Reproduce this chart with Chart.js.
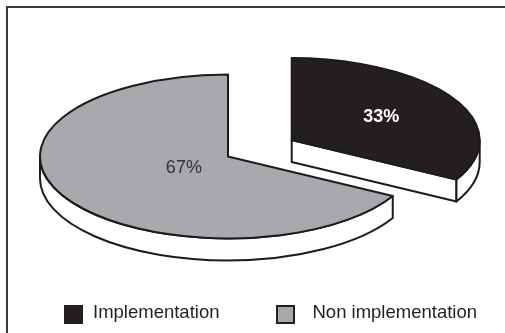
<!DOCTYPE html>
<html>
<head>
<meta charset="utf-8">
<title>Implementation share</title>
<script src="https://cdn.jsdelivr.net/npm/chart.js@4.4.0/dist/chart.umd.min.js"></script>
<style>
  html, body { margin: 0; padding: 0; background: #fff; }
  body {
    width: 505px;
    height: 333px;
    position: relative;
    overflow: hidden;
    font-family: "Liberation Sans", Arial, sans-serif;
  }
  #frame {
    position: absolute;
    left: 6px;
    top: 6px;
    width: 560px;
    height: 380px;
    border-left: 2px solid #383838;
    border-top: 2px solid #383838;
  }
  #chart-wrap {
    position: absolute;
    left: 0;
    top: 0;
    width: 505px;
    height: 333px;
  }
  #legend {
    position: absolute;
    left: 64px;
    top: 301px;
    display: flex;
    font-size: 18.5px;
    line-height: 21px;
    color: #231f20;
  }
  .legend-item { display: flex; align-items: flex-start; }
  .legend-item + .legend-item { margin-left: 57px; }
  .legend-box {
    width: 19px;
    height: 19px;
    margin-top: 4px;
    box-sizing: border-box;
    border: 2px solid #231f20;
  }
  .legend-item:first-child .legend-box { margin-right: 10px; }
  .legend-item:last-child .legend-box { margin-right: 17px; }
</style>
</head>
<body>
<div id="frame"></div>
<div id="chart-wrap"><canvas id="pie-chart"></canvas></div>
<div id="legend"></div>

<script>
// Survey answers, percent of respondents
const categories = ["Implementation", "Non implementation"];
const shares = [33, 67];

// Disc shape: vertical squash of the top face and the thickness of the wall
const TILT = 0.436;
const DEPTH = 22;
const EDGE = "#1c1c1c";

/**
 * Draw one slice as a flat cylinder piece: cut faces, front wall, then top
 */
function drawSlice(ctx, sl) {
  const rx = sl.r;
  const ry = sl.r * TILT;

  ctx.save();
  ctx.lineWidth = 2;
  ctx.strokeStyle = EDGE;
  ctx.lineJoin = "round";
  ctx.fillStyle = "#ffffff";

  // Radial cut faces, only those turned towards the viewer
  const faces = [
    [sl.s, sl.s - Math.PI / 2],
    [sl.e, sl.e + Math.PI / 2],
  ];
  for (const [a, normal] of faces) {
    if (Math.sin(normal) <= 0.01) continue;
    const x = sl.cx + Math.cos(a) * rx;
    const y = sl.cy + Math.sin(a) * ry;
    ctx.beginPath();
    ctx.moveTo(sl.cx, sl.cy);
    ctx.lineTo(x, y);
    ctx.lineTo(x, y + DEPTH);
    ctx.lineTo(sl.cx, sl.cy + DEPTH);
    ctx.closePath();
    ctx.fill();
    ctx.stroke();
  }

  // Outer wall, front half of the disc only
  for (let k = -1; k <= 1; k++) {
    const a0 = Math.max(sl.s, 2 * Math.PI * k);
    const a1 = Math.min(sl.e, 2 * Math.PI * k + Math.PI);
    if (a1 <= a0) continue;
    ctx.beginPath();
    ctx.ellipse(sl.cx, sl.cy, rx, ry, 0, a0, a1);
    ctx.ellipse(sl.cx, sl.cy + DEPTH, rx, ry, 0, a1, a0, true);
    ctx.closePath();
    ctx.fill();
    ctx.stroke();
  }

  // Top face
  ctx.beginPath();
  ctx.moveTo(sl.cx, sl.cy);
  ctx.ellipse(sl.cx, sl.cy, rx, ry, 0, sl.s, sl.e);
  ctx.closePath();
  ctx.fillStyle = sl.fill;
  ctx.fill();
  ctx.stroke();
  ctx.restore();
}

// Renders the pie arcs computed by Chart.js as a tilted 3D disc
const pie3d = {
  id: "pie3d",
  beforeDatasetsDraw(chart, args, opts) {
    const ctx = chart.ctx;
    const meta = chart.getDatasetMeta(0);

    const slices = meta.data.map((arc, i) => {
      const p = arc.getProps(["x", "y", "startAngle", "endAngle", "outerRadius"], true);
      const mid = (p.startAngle + p.endAngle) / 2;
      const off = arc.options.offset || 0;
      return {
        i,
        mid,
        s: p.startAngle,
        e: p.endAngle,
        r: p.outerRadius,
        cx: p.x + Math.cos(mid) * off,
        cy: p.y + Math.sin(mid) * off * TILT,
        fill: arc.options.backgroundColor,
      };
    });

    // Slices further back are painted first
    slices
      .slice()
      .sort((a, b) => Math.sin(a.mid) - Math.sin(b.mid))
      .forEach((sl) => drawSlice(ctx, sl));

    // Percent labels at the centroid of each top face
    ctx.save();
    ctx.textAlign = "center";
    ctx.textBaseline = "middle";
    for (const sl of slices) {
      const span = sl.e - sl.s;
      const dist = (4 * sl.r * Math.sin(span / 2)) / (3 * span);
      const x = sl.cx + Math.cos(sl.mid) * dist;
      const y = sl.cy + Math.sin(sl.mid) * dist * TILT;
      ctx.font = opts.fonts[sl.i];
      ctx.fillStyle = opts.colors[sl.i];
      ctx.fillText(`${shares[sl.i]}%`, x, y);
    }
    ctx.restore();

    // Skip the flat default arcs
    return false;
  },
};

const sliceColors = ["#231f20", "#a7a9ac"];

const chart = new Chart(document.getElementById("pie-chart"), {
  type: "pie",
  data: {
    labels: categories,
    datasets: [
      {
        data: shares,
        backgroundColor: sliceColors,
        borderColor: EDGE,
        borderWidth: 2,
        offset: [74, 0],
        radius: 188,
      },
    ],
  },
  options: {
    responsive: true,
    maintainAspectRatio: false,
    animation: false,
    layout: {
      padding: { left: 0, right: 49, top: 0, bottom: 20 },
    },
    plugins: {
      legend: { display: false },
      tooltip: { enabled: false },
      pie3d: {
        fonts: [
          'bold 18px "Liberation Sans", Arial, sans-serif',
          '18px "Liberation Sans", Arial, sans-serif',
        ],
        colors: ["#ffffff", "#333333"],
      },
    },
  },
  plugins: [pie3d],
});

// Legend under the chart
const legend = document.getElementById("legend");
categories.forEach((name, i) => {
  const item = document.createElement("div");
  item.className = "legend-item";

  const box = document.createElement("div");
  box.className = "legend-box";
  box.style.background = sliceColors[i];
  item.appendChild(box);

  const text = document.createElement("span");
  text.textContent = name;
  item.appendChild(text);

  legend.appendChild(item);
});
</script>
</body>
</html>
